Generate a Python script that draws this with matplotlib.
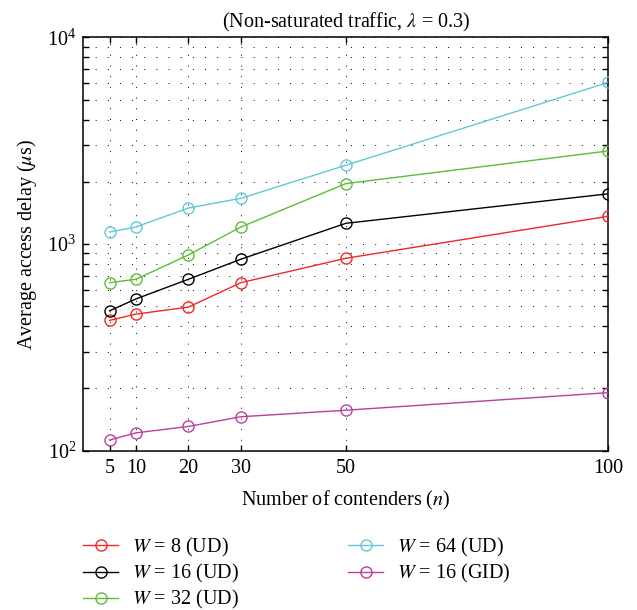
import matplotlib
matplotlib.use("Agg")
import matplotlib.pyplot as plt
from matplotlib.ticker import LogLocator, NullFormatter, FixedLocator

plt.rcParams['font.family'] = ['Liberation Serif', 'DejaVu Serif']
plt.rcParams['mathtext.fontset'] = 'stix'

n_values = [5, 10, 20, 30, 50, 100]
x_ticks = [5, 10, 20, 30, 50, 100]

w8_ud = [427, 458, 495, 650, 853, 1362]
w16_ud = [475, 542, 675, 844, 1259, 1749]
w32_ud = [650, 675, 885, 1208, 1960, 2818]
w64_ud = [1143, 1208, 1493, 1663, 2404, 6051]
w16_gid = [112.7, 122, 131, 146, 157, 191]

series = [
    (w8_ud, '#f02828', r'$W$ = 8 (UD)'),
    (w16_ud, '#000000', r'$W$ = 16 (UD)'),
    (w32_ud, '#5cbd38', r'$W$ = 32 (UD)'),
    (w64_ud, '#62c8d8', r'$W$ = 64 (UD)'),
    (w16_gid, '#b8409e', r'$W$ = 16 (GID)'),
]

FS = 14.5

fig = plt.figure(figsize=(6.37, 6.10), dpi=100)
ax = fig.add_axes([0.1308, 0.2611, 0.8242, 0.6778])

handles = []
for vals, col, lab in series:
    h, = ax.plot(n_values, vals, color=col, lw=1.0, marker='o', markersize=8,
                 markerfacecolor='none', markeredgecolor=col, markeredgewidth=1.0,
                 label=lab, zorder=3)
    handles.append(h)

ax.set_yscale('log')
ax.set_xlim(0, 100)
ax.set_ylim(100, 10000)
ax.xaxis.set_major_locator(FixedLocator(x_ticks))
ax.set_xticklabels([str(t) for t in x_ticks])
ax.yaxis.set_major_locator(LogLocator(base=10, numticks=10))
ax.yaxis.set_minor_locator(LogLocator(base=10, subs=range(2, 10), numticks=10))
ax.yaxis.set_minor_formatter(NullFormatter())

ax.tick_params(which='both', direction='in', top=True, right=True, labelsize=FS,
               length=4.5, width=1)
ax.tick_params(axis='x', pad=6)
ax.tick_params(axis='y', pad=5)

ax.grid(True, which='major', axis='x', color='black', linestyle=(0, (1, 10)), lw=0.7)
ax.grid(True, which='both', axis='y', color='black', linestyle=(0, (1, 11.5)), lw=0.7)

for sp in ax.spines.values():
    sp.set_linewidth(1.1)

ax.set_title(r'(Non-saturated traffic, $\lambda$ = 0.3)', fontsize=FS, pad=7)
ax.set_xlabel(r'Number of contenders ($n$)', fontsize=FS, labelpad=8)
ax.set_ylabel(r'Average access delay ($\mu$s)', fontsize=FS, labelpad=6)

leg_kw = dict(loc='upper left', frameon=False, fontsize=FS, handlelength=1.75,
              handletextpad=0.7, labelspacing=0.15, borderaxespad=0, borderpad=0)
anchor_y = 1 - 536 / 610
leg1 = fig.legend(handles=handles[:3], bbox_to_anchor=(83 / 637, anchor_y), **leg_kw)
leg2 = fig.legend(handles=handles[3:], bbox_to_anchor=(348 / 637, anchor_y), **leg_kw)

fig.savefig('out.png', dpi=100)
